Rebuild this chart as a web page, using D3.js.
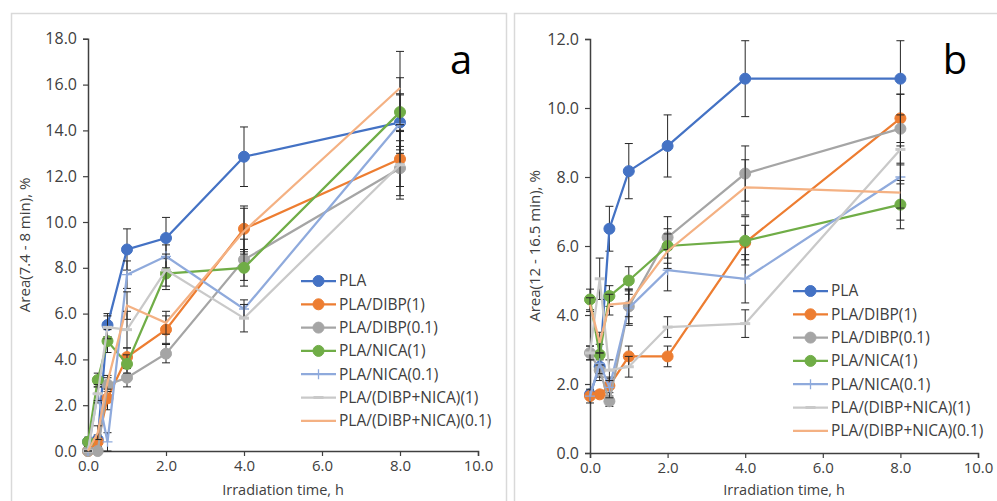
<!DOCTYPE html>
<html>
<head>
<meta charset="utf-8">
<script src="https://cdn.jsdelivr.net/npm/d3@7"></script>
<style>
  body { margin: 0; background: #fff; }
  svg text { font-family: "Open Sans", sans-serif; fill: #404040; }
</style>
</head>
<body>
<div id="chart"></div>
<script>
var times = [0, 0.25, 0.5, 1, 2, 4, 8];
var seriesNames = ["PLA", "PLA/DIBP(1)", "PLA/DIBP(0.1)", "PLA/NICA(1)", "PLA/NICA(0.1)",
                   "PLA/(DIBP+NICA)(1)", "PLA/(DIBP+NICA)(0.1)"];
var seriesColors = ["#4472c4", "#ed7d31", "#a5a5a5", "#70ad47", "#8faadc", "#c9c9c9", "#f4b183"];
var seriesMarkers = ["circle", "circle", "circle", "circle", "plus", "dash", "none"];

// panel a: Area(7.4 - 8 min), %
var valuesA = [
  [0.4, 0.5, 5.5, 8.8, 9.3, 12.85, 14.35],
  [0.0, 0.4, 2.3, 4.1, 5.3, 9.7, 12.75],
  [0.0, 0.0, 2.9, 3.2, 4.25, 8.35, 12.35],
  [0.4, 3.1, 4.8, 3.8, 7.75, 8.0, 14.8],
  [0.0, 2.5, 0.4, 7.7, 8.5, 6.2, 14.3],
  [0.0, 2.5, 5.4, 5.3, 7.9, 5.8, 12.5],
  [0.0, 0.8, 3.0, 6.35, 5.6, 9.6, 15.85]
];
var errorsA = [
  [0.1, 0.2, 0.5, 0.9, 0.9, 1.3, 1.2],
  [0.0, 0.2, 0.5, 0.4, 0.6, 1.0, 1.2],
  [0.0, 0.0, 0.3, 0.4, 0.4, 0.9, 1.2],
  [0.2, 0.3, 0.5, 0.4, 0.7, 0.8, 1.5],
  [0.0, 0.4, 0.4, 0.6, 0.5, 0.4, 1.3],
  [0.0, 0.3, 0.5, 0.8, 0.7, 0.6, 1.5],
  [0.0, 0.3, 0.3, 0.6, 0.5, 1.0, 1.6]
];

// panel b: Area(12 - 16.5 min), %
var valuesB = [
  [1.7, 2.5, 6.5, 8.17, 8.9, 10.85, 10.85],
  [1.65, 1.7, 1.95, 2.8, 2.8, 6.1, 9.7],
  [2.9, 2.4, 1.5, 4.25, 6.25, 8.1, 9.4],
  [4.45, 2.85, 4.55, 5.0, 6.0, 6.15, 7.2],
  [1.65, 2.6, 1.9, 4.2, 5.3, 5.05, 8.0],
  [2.9, 5.05, 2.4, 2.5, 3.65, 3.75, 8.8],
  [4.3, 3.2, 4.3, 4.35, 5.85, 7.7, 7.55]
];
var errorsB = [
  [0.1, 0.3, 0.65, 0.8, 0.9, 1.1, 1.1],
  [0.1, 0.1, 0.2, 0.3, 0.3, 0.5, 0.7],
  [0.2, 0.3, 0.15, 0.5, 0.6, 0.8, 1.0],
  [0.3, 0.3, 0.3, 0.4, 0.5, 0.7, 0.7],
  [0.2, 0.3, 0.3, 0.5, 0.6, 0.7, 0.9],
  [0.2, 0.6, 0.3, 0.3, 0.3, 0.4, 1.0],
  [0.2, 0.3, 0.3, 0.4, 0.5, 0.8, 0.8]
];

var xTicks = [0, 2, 4, 6, 8, 10];
var yTicksA = [0, 2, 4, 6, 8, 10, 12, 14, 16, 18];
var yTicksB = [0, 2, 4, 6, 8, 10, 12];

var svg = d3.select("#chart").append("svg")
    .attr("width", 997)
    .attr("height", 501);

var panels = [
  { box: [11, 13, 495, 520], x0: 88, x1: 478, y0: 451, y1: 38.8, yMax: 18, yTicks: yTicksA,
    values: valuesA, errors: errorsA, title: "Area(7.4 - 8 min), %", titleX: 25, letter: "a",
    letterX: 461, legendX: 301, legendY: 281 },
  { box: [514, 13, 500, 520], x0: 590, x1: 978, y0: 453, y1: 39, yMax: 12, yTicks: yTicksB,
    values: valuesB, errors: errorsB, title: "Area(12 - 16.5 min), %", titleX: 535, letter: "b",
    letterX: 955, legendX: 793, legendY: 291 }
];

panels.forEach(drawPanel);

function drawPanel(p) {
  svg.append("rect")
      .attr("x", p.box[0] + 0.5)
      .attr("y", p.box[1] + 0.5)
      .attr("width", p.box[2])
      .attr("height", p.box[3])
      .attr("fill", "none")
      .attr("stroke", "#d9d9d9")
      .attr("stroke-width", 1.5);

  var x = d3.scaleLinear().domain([0, 10]).range([p.x0, p.x1]);
  var y = d3.scaleLinear().domain([0, p.yMax]).range([p.y0, p.y1]);

  var g = svg.append("g");

  var yAxis = g.append("g")
      .attr("transform", "translate(" + p.x0 + ",0)")
      .call(d3.axisLeft(y).tickValues(p.yTicks).tickFormat(d3.format(".1f")).tickSizeOuter(0).tickSize(5).tickPadding(6));
  var xAxis = g.append("g")
      .attr("transform", "translate(0," + p.y0 + ")")
      .call(d3.axisBottom(x).tickValues(xTicks).tickFormat(d3.format(".1f")).tickSizeOuter(0).tickSize(5).tickPadding(4));
  [yAxis, xAxis].forEach(function(a) {
    a.select(".domain").attr("stroke", "#404040").attr("stroke-width", 1.5);
    a.selectAll(".tick line").attr("stroke", "#404040").attr("stroke-width", 1.2);
    a.selectAll(".tick text").style("font-size", "15px").attr("fill", "#404040");
  });
  yAxis.selectAll(".tick text").style("font-size", "16px");

  g.append("text")
      .attr("transform", "translate(" + p.titleX + "," + ((p.y0 + p.y1) / 2) + ") rotate(-90)")
      .attr("text-anchor", "middle")
      .attr("dy", "0.35em")
      .style("font-size", "15px")
      .text(p.title);

  g.append("text")
      .attr("x", (p.x0 + p.x1) / 2)
      .attr("y", 495)
      .attr("text-anchor", "middle")
      .style("font-size", "14.5px")
      .text("Irradiation time, h");

  g.append("text")
      .attr("x", p.letterX)
      .attr("y", 60)
      .attr("text-anchor", "middle")
      .attr("dy", "0.35em")
      .style("font-size", "40px")
      .style("fill", "#000")
      .text(p.letter);

  var line = d3.line()
      .x(function(d) { return x(d[0]); })
      .y(function(d) { return y(d[1]); });

  seriesNames.forEach(function(name, i) {
    var pts = times.map(function(t, j) { return [t, p.values[i][j], p.errors[i][j]]; });
    var sg = g.append("g");

    // error bars
    var eb = sg.selectAll(".err").data(pts).enter().append("g");
    eb.append("line")
        .attr("x1", function(d) { return x(d[0]); })
        .attr("x2", function(d) { return x(d[0]); })
        .attr("y1", function(d) { return y(d[1] - d[2]); })
        .attr("y2", function(d) { return y(d[1] + d[2]); })
        .attr("stroke", "#262626").attr("stroke-width", 1);
    [-1, 1].forEach(function(s) {
      eb.append("line")
          .attr("x1", function(d) { return x(d[0]) - 4; })
          .attr("x2", function(d) { return x(d[0]) + 4; })
          .attr("y1", function(d) { return y(d[1] + s * d[2]); })
          .attr("y2", function(d) { return y(d[1] + s * d[2]); })
          .attr("stroke", "#262626").attr("stroke-width", 1);
    });

    sg.append("path")
        .datum(pts)
        .attr("d", line)
        .attr("fill", "none")
        .attr("stroke", seriesColors[i])
        .attr("stroke-width", 2.25);

    drawMarkers(sg, pts.map(function(d) { return [x(d[0]), y(d[1])]; }), i);
  });

  // legend
  var lg = g.append("g");
  seriesNames.forEach(function(name, i) {
    var ly = p.legendY + i * 23.3;
    lg.append("line")
        .attr("x1", p.legendX).attr("x2", p.legendX + 35)
        .attr("y1", ly).attr("y2", ly)
        .attr("stroke", seriesColors[i])
        .attr("stroke-width", 2.25);
    drawMarkers(lg, [[p.legendX + 17.5, ly]], i);
    lg.append("text")
        .attr("x", p.legendX + 38)
        .attr("y", ly)
        .attr("dy", "0.35em")
        .style("font-size", "15.5px")
        .text(name);
  });
}

function drawMarkers(sel, pts, i) {
  var kind = seriesMarkers[i];
  var c = seriesColors[i];
  pts.forEach(function(pt) {
    if (kind == "circle") {
      sel.append("circle")
          .attr("cx", pt[0]).attr("cy", pt[1]).attr("r", 5.5)
          .attr("fill", c).attr("stroke", c);
    } else if (kind == "plus") {
      sel.append("path")
          .attr("d", "M" + (pt[0] - 5) + "," + pt[1] + "h10M" + pt[0] + "," + (pt[1] - 5) + "v10")
          .attr("stroke", c).attr("stroke-width", 1.3);
    } else if (kind == "dash") {
      sel.append("path")
          .attr("d", "M" + (pt[0] - 5) + "," + pt[1] + "h10")
          .attr("stroke", c).attr("stroke-width", 3);
    }
  });
}
</script>
</body>
</html>
